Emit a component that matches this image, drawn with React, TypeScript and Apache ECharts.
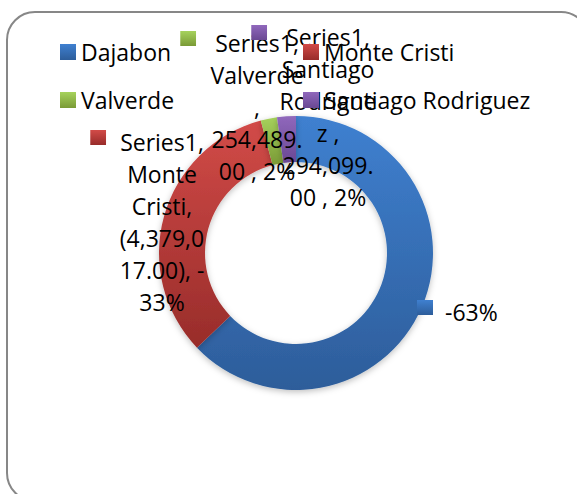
import React, { useEffect, useRef } from "react";
import * as echarts from "echarts";

// ---- data ----
const seriesName = "Series1";
const categories = ["Dajabon", "Monte Cristi", "Valverde", "Santiago Rodriguez"];
// signed values (Dajabon estimated from its -63% share)
const values = [-8340000, -4379017, 254489, 294099];
const legendColumnA = ["Dajabon", "Valverde"];
const legendColumnB = ["Monte Cristi", "Santiago Rodriguez"];

// ---- styles / layout ----
const FONT = "'Open Sans', 'Noto Sans', sans-serif";
const FS = 23;
const gradients: [string, string][] = [
  ["#3F80D0", "#2D5D9A"],
  ["#D24B48", "#982C2A"],
  ["#A6D25C", "#7A9A36"],
  ["#9068BC", "#6A4893"],
];
// label layout: anchor x, top y, alignment, char counts per wrapped line, gap key->text
const labelLayouts = [
  { x: 417, y: 296, align: "left", wrap: [] as number[], gap: 12, showFull: false },
  { x: 162, y: 126, align: "center", wrap: [8, 5, 7, 8, 9], gap: 14, showFull: true },
  { x: 257, y: 27, align: "center", wrap: [8, 8, 1, 8], gap: 19, showFull: true },
  { x: 328, y: 21, align: "center", wrap: [8, 8, 8, 3, 8], gap: 19, showFull: true },
];

const sumAbs = values.reduce((s, v) => s + Math.abs(v), 0);

function fmtNum(v: number): string {
  const s = Math.abs(v).toLocaleString("en-US", { minimumFractionDigits: 2, maximumFractionDigits: 2 });
  return v < 0 ? `(${s})` : s;
}
function pct(v: number): string {
  return `${Math.round((v / sumAbs) * 100)}%`;
}
function fullText(i: number): string {
  const v = values[i];
  if (v < 0) return `${seriesName}, ${categories[i]}, ${fmtNum(v)}, ${pct(v)}`;
  return `${seriesName}, ${categories[i]} , ${fmtNum(v)} , ${pct(v)}`;
}
function wrapChars(text: string, counts: number[]): string[] {
  const lines: string[] = [];
  let i = 0;
  for (const c of counts) {
    while (text[i] === " ") i++;
    lines.push(text.substr(i, c).trimEnd());
    i += c;
  }
  while (text[i] === " ") i++;
  lines.push(text.substr(i));
  return lines;
}
function keyImage(c: [string, string]): string {
  const svg =
    `<svg xmlns='http://www.w3.org/2000/svg' width='16' height='24' viewBox='0 0 16 24'>` +
    `<defs><linearGradient id='g' x1='0' y1='0' x2='0' y2='1'>` +
    `<stop offset='0' stop-color='${c[0]}'/><stop offset='1' stop-color='${c[1]}'/>` +
    `</linearGradient></defs><rect x='0' y='0' width='16' height='15' fill='url(#g)'/></svg>`;
  return "data:image/svg+xml;charset=utf-8," + encodeURIComponent(svg);
}

export default function App() {
  const ref = useRef<HTMLDivElement>(null);
  useEffect(() => {
    if (!ref.current) return;
    const chart = echarts.init(ref.current, null, { renderer: "svg" });

    const data = categories.map((name, i) => {
      const L = labelLayouts[i];
      const lines = L.showFull ? wrapChars(fullText(i), L.wrap) : [pct(values[i])];
      let text: string;
      if (L.align === "center") {
        text = `{k|}{g|}${lines[0]}{g|}{s|}` + (lines.length > 1 ? "\n" + lines.slice(1).join("\n") : "");
      } else {
        text = `{k|}{g|}${lines.join("\n")}`;
      }
      return {
        name,
        value: Math.abs(values[i]),
        itemStyle: {
          color: new echarts.graphic.LinearGradient(0, 0, 0, 1, [
            { offset: 0, color: gradients[i][0] },
            { offset: 1, color: gradients[i][1] },
          ]),
        },
        label: {
          formatter: text,
          rich: {
            k: { width: 16, height: 24, backgroundColor: { image: keyImage(gradients[i]) }, lineHeight: 32, verticalAlign: "middle" },
            s: { width: 16, height: 24, lineHeight: 32 },
            g: { width: L.gap, lineHeight: 32 },
          },
        },
      };
    });

    const legendBase = {
      orient: "vertical",
      top: 40,
      padding: 0,
      itemWidth: 16,
      itemHeight: 16,
      itemGap: 24,
      icon: "rect",
      selectedMode: false,
      textStyle: { fontFamily: FONT, fontSize: FS, color: "#000", lineHeight: 24 },
      z: 10,
    };

    chart.setOption({
      animation: false,
      backgroundColor: "#ffffff",
      graphic: [
        {
          type: "rect",
          shape: { x: 7, y: 12, width: 582, height: 489, r: 28 },
          style: { fill: "none", stroke: "#878787", lineWidth: 2 },
          z: 0,
          silent: true,
        },
      ],
      legend: [
        { ...legendBase, data: legendColumnA, left: 60 },
        { ...legendBase, data: legendColumnB, left: 303 },
      ],
      series: [
        {
          type: "pie",
          name: seriesName,
          center: [296, 253],
          radius: [91, 137],
          startAngle: 90,
          clockwise: true,
          avoidLabelOverlap: false,
          emphasis: { disabled: true },
          itemStyle: {
            borderWidth: 0,
            shadowBlur: 6,
            shadowOffsetY: 2,
            shadowColor: "rgba(0,0,0,0.25)",
          },
          label: {
            show: true,
            position: "outside",
            fontFamily: FONT,
            fontSize: FS,
            lineHeight: 32,
            color: "#000",
            align: "center",
          },
          labelLine: { show: false },
          labelLayout: (params: any) => {
            const L = labelLayouts[params.dataIndex];
            return { x: L.x, y: L.y, align: L.align, verticalAlign: "top", hideOverlap: false };
          },
          data,
        },
      ],
    });
    return () => chart.dispose();
  }, []);

  return (
    <div
      ref={ref}
      style={{ position: "absolute", left: 0, top: 0, width: 577, height: 494, background: "#fff" }}
    />
  );
}
